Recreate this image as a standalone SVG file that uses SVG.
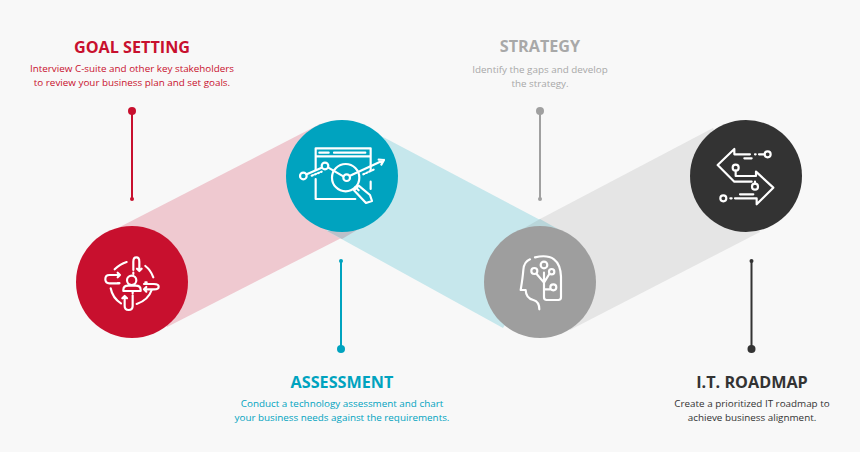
<svg xmlns="http://www.w3.org/2000/svg" width="860" height="452" viewBox="0 0 860 452">
<style>
.t{font-family:"Open Sans",sans-serif;font-weight:700;font-size:16.2px;text-anchor:middle}
.b{font-family:"Open Sans",sans-serif;font-size:9.85px;text-anchor:middle}
.i{fill:none;stroke:#fff;stroke-width:6.5;stroke-linecap:round;stroke-linejoin:round}
.d{stroke-dasharray:4 6}
</style>
<rect width="860" height="452" fill="#f8f8f8"/>
<g id="connectors">
<polygon points="540,219 713,128 760,232 570,330 540,282" fill="#e5e5e5"/>
<polygon points="110,232 320,124 342,120 357,230 167,327 132,282" fill="#efc9d0"/>
<polygon points="342,120 385,138 563,232 503,328 327,231" fill="#c6e7ec"/>
<polygon points="327,231 357,230 342,239" fill="#bcc0c9"/>
<polygon points="540,219 565,233 540,250 512,235" fill="#b9d6da"/>
<path d="M132 111V199" stroke="#c8102e" stroke-width="2" fill="none"/>
<circle cx="132" cy="111" r="4" fill="#c8102e"/><circle cx="132" cy="199" r="2" fill="#c8102e"/>
<path d="M341 262V349" stroke="#00a3bf" stroke-width="2" fill="none"/>
<circle cx="341" cy="261" r="2" fill="#00a3bf"/><circle cx="341" cy="349" r="4" fill="#00a3bf"/>
<path d="M540 111V199" stroke="#a0a0a0" stroke-width="2" fill="none"/>
<circle cx="540" cy="111" r="4" fill="#a0a0a0"/><circle cx="540" cy="199" r="2" fill="#a0a0a0"/>
<path d="M751.5 262V349" stroke="#333" stroke-width="2" fill="none"/>
<circle cx="751.5" cy="261" r="2" fill="#333"/><circle cx="751.5" cy="349" r="4" fill="#333"/>
</g>
<g id="goal-setting">
<text class="t" x="132" y="52.500" fill="#c8102e">GOAL SETTING</text>
<text class="b" x="132" y="72" fill="#c8102e">Interview C-suite and other key stakeholders</text>
<text class="b" x="132" y="86" fill="#c8102e">to review your business plan and set goals.</text>
<circle cx="132" cy="282" r="56" fill="#c8102e"/>
<g class="i" transform="translate(70 220) scale(.3333)">
<circle cx="185" cy="181" r="14"/><path d="M160 213V210Q160 197 175 197H197Q212 197 212 210V213Z"/>
<path d="M134 148Q150 132 170 126M226 138Q242 150 250 172M245 210Q235 240 200 252M122 205Q128 235 153 250"/>
<path d="M190 150V125Q190 112 199 112Q208 112 208 125V150M201 146L208 153L215 146"/>
<path d="M224 208H252Q266 208 266 200Q266 192 252 192H222M229 201L222 208L229 215"/>
<path d="M150 165H118Q106 165 106 178Q106 190 118 190H148M143 158L150 165L143 172"/>
<path d="M188 226V258Q188 270 176 270Q164 270 164 258V228M157 235L164 228L171 235"/>
<path class="d" d="M190 158V164M226 187H236M144 189H154M188 216V222"/>
</g>
</g>
<g id="assessment">
<circle cx="342" cy="176" r="56" fill="#00a3bf"/>
<g class="i" transform="translate(280 115) scale(.3333)">
<path d="M107 165V100H272V168M107 192V252H226M272 200V222M107 124H272"/>
<path d="M118 113H146M162 113H256"/>
<circle cx="70" cy="183" r="10"/><circle cx="135" cy="153" r="10"/><circle cx="200" cy="188" r="10"/><circle cx="197" cy="188" r="41"/>
<path d="M80 178L125 158M145 158L190 184M210 182L312 135M296 134L312 135L304 149M226 216L236 226M236 212L222 226L258 264L276 258L270 240Z"/>
<path class="d" d="M95 182L125 170M250 178L285 162"/>
</g>
<text class="t" x="342" y="387.500" fill="#00a3bf">ASSESSMENT</text>
<text class="b" x="342" y="406.500" fill="#00a3bf">Conduct a technology assessment and chart</text>
<text class="b" x="342" y="420.500" fill="#00a3bf">your business needs against the requirements.</text>
</g>
<g id="strategy">
<text class="t" x="540" y="52" fill="#a8a8a8">STRATEGY</text>
<text class="b" x="540" y="73" fill="#a8a8a8">Identify the gaps and develop</text>
<text class="b" x="540" y="87" fill="#a8a8a8">the strategy.</text>
<circle cx="540" cy="282" r="56" fill="#9e9e9e"/>
<g class="i" transform="translate(480 220) scale(.3333)">
<path d="M150 118Q132 125 130 150Q128 175 122 210H137Q138 235 160 240Q178 245 178 268M165 112Q240 95 243 170V232Q243 240 235 240H200Q192 240 192 232V205"/>
<circle cx="163" cy="153" r="9"/><circle cx="192" cy="135" r="10"/><circle cx="215" cy="155" r="8"/><circle cx="220" cy="202" r="9"/>
<path d="M170 162L192 188V205M192 158V188M208 162L192 188M192 208H210"/>
</g>
</g>
<g id="it-roadmap">
<circle cx="746" cy="176" r="56" fill="#333"/>
<g class="i" transform="translate(685 115) scale(.3333)">
<path d="M148 102L98 150L148 200H200M148 102V118H195M222 118H238"/>
<path d="M152 167V183H213V170L265 218L215 268V250H150"/>
<path d="M178 130H200M165 238H205M210 200V206M136 250H140M210 118H212"/>
<circle cx="248" cy="118" r="9"/><circle cx="152" cy="158" r="9"/><circle cx="210" cy="215" r="9"/><circle cx="115" cy="250" r="9"/>
</g>
<text class="t" x="752" y="387.500" fill="#333">I.T. ROADMAP</text>
<text class="b" x="752" y="406.500" fill="#333">Create a prioritized IT roadmap to</text>
<text class="b" x="752" y="420.500" fill="#333">achieve business alignment.</text>
</g>
</svg>
